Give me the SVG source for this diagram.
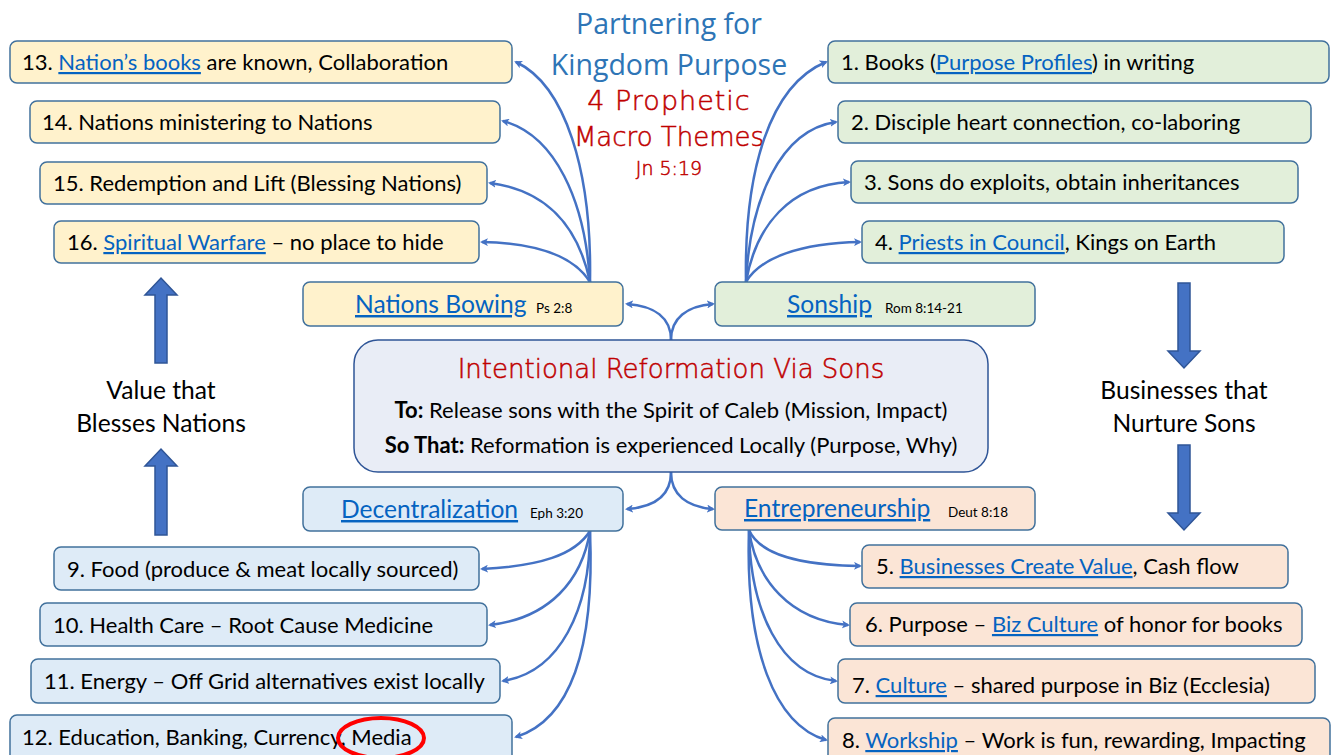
<svg xmlns="http://www.w3.org/2000/svg" width="1337" height="755" viewBox="0 0 1337 755">
<defs>
<marker id="ah" markerWidth="8" markerHeight="8" refX="6" refY="4" orient="auto" markerUnits="userSpaceOnUse"><path d="M0,0 L8,4 L0,8 L2,4 Z" fill="#4472C4"/></marker>
<style>
.bx{stroke:#41719C;stroke-width:1.5}
.y{fill:#FFF2CC}.g{fill:#E2EFDA}.b{fill:#DEEBF7}.p{fill:#FBE5D6}
.t{font-family:Lato,"Liberation Sans",sans-serif;font-size:22px;fill:#000}
.lk{fill:#0563C1;text-decoration:underline}
.h{font-family:Lato,"Liberation Sans",sans-serif;font-size:24.6px;fill:#0563C1;text-decoration:underline}
.s{font-family:Lato,"Liberation Sans",sans-serif;font-size:13.5px;fill:#000}
.c{fill:none;stroke:#4472C4;stroke-width:2.5;marker-end:url(#ah)}
.big{fill:#4472C4;stroke:#2F5597;stroke-width:1.5}
.tl{font-family:"Open Sans","Noto Sans",sans-serif;font-size:28.5px;fill:#2E75B6;text-anchor:middle}
.hw{font-family:"DejaVu Sans",sans-serif;font-weight:200;fill:#C00000;stroke:#C00000;stroke-width:0.5;text-anchor:middle}
.mid{font-family:Lato,"Liberation Sans",sans-serif;font-size:24.6px;fill:#000;text-anchor:middle}
.ct{font-family:Lato,"Liberation Sans",sans-serif;font-size:22px;fill:#000;text-anchor:middle}
</style>
</defs>
<rect width="1337" height="755" fill="#fff"/>
<g id="title">
<text class="tl" x="669" y="34">Partnering for</text>
<text class="tl" x="669" y="75">Kingdom Purpose</text>
<text class="hw" x="669" y="110" font-size="27" letter-spacing="1">4 Prophetic</text>
<text class="hw" x="669" y="146" font-size="26">Macro Themes</text>
<text class="hw" x="669" y="175" font-size="19">Jn 5:19</text>
</g>
<g id="connectors">
<path class="c" d="M590,282 C592,170 565,85 516,62"/>
<path class="c" d="M590,282 C585,200 555,135 503,121"/>
<path class="c" d="M590,282 C578,225 545,190 490,183"/>
<path class="c" d="M590,282 C575,258 540,243 482,242"/>
<path class="c" d="M746,282 C744,170 770,85 826,62"/>
<path class="c" d="M746,282 C750,200 780,130 836,122"/>
<path class="c" d="M746,282 C756,225 790,185 849,182"/>
<path class="c" d="M746,282 C760,258 800,243 860,242"/>
<path class="c" d="M590,531 C575,555 540,566 482,569"/>
<path class="c" d="M590,531 C582,580 550,618 490,625"/>
<path class="c" d="M590,531 C590,610 560,672 503,681"/>
<path class="c" d="M590,531 C595,650 570,720 516,737"/>
<path class="c" d="M749,530 C760,555 800,565 860,566"/>
<path class="c" d="M749,530 C756,580 790,620 848,625"/>
<path class="c" d="M749,530 C750,610 780,675 836,681"/>
<path class="c" d="M749,530 C745,650 775,725 826,740"/>
<path class="c" d="M671,340 C671,318 655,306 627,304"/>
<path class="c" d="M671,340 C671,318 687,306 713,304"/>
<path class="c" d="M671,472 C671,495 655,507 627,509"/>
<path class="c" d="M671,472 C671,495 687,507 713,509"/>
</g>
<g id="n13"><rect class="bx y" x="10" y="41" width="502" height="42" rx="7"/><text class="t" x="22" y="70">13. <tspan class="lk">Nation’s books</tspan> are known, Collaboration</text></g>
<g id="n14"><rect class="bx y" x="30" y="101" width="470" height="42" rx="7"/><text class="t" x="42" y="130">14. Nations ministering to Nations</text></g>
<g id="n15"><rect class="bx y" x="40" y="162" width="447" height="42" rx="7"/><text class="t" x="53" y="191">15. Redemption and Lift (Blessing Nations)</text></g>
<g id="n16"><rect class="bx y" x="54" y="221" width="425" height="42" rx="7"/><text class="t" x="67" y="250">16. <tspan class="lk">Spiritual Warfare</tspan> – no place to hide</text></g>
<g id="nations"><rect class="bx y" x="303" y="282" width="320" height="44" rx="7"/><text class="h" x="355" y="313">Nations Bowing</text><text class="s" x="536" y="313">Ps 2:8</text></g>
<g id="n1"><rect class="bx g" x="828" y="41" width="501" height="42" rx="7"/><text class="t" x="841" y="70">1. Books (<tspan class="lk">Purpose Profiles</tspan>) in writing</text></g>
<g id="n2"><rect class="bx g" x="838" y="101" width="473" height="42" rx="7"/><text class="t" x="851" y="130">2. Disciple heart connection, co-laboring</text></g>
<g id="n3"><rect class="bx g" x="851" y="161" width="447" height="42" rx="7"/><text class="t" x="864" y="190">3. Sons do exploits, obtain inheritances</text></g>
<g id="n4"><rect class="bx g" x="862" y="221" width="422" height="42" rx="7"/><text class="t" x="875" y="250">4. <tspan class="lk">Priests in Council</tspan>, Kings on Earth</text></g>
<g id="sonship"><rect class="bx g" x="715" y="282" width="320" height="44" rx="7"/><text class="h" x="787" y="313">Sonship</text><text class="s" x="885" y="313">Rom 8:14-21</text></g>
<g id="center"><rect x="354" y="340" width="634" height="132" rx="24" fill="#E9EDF6" stroke="#2F5597" stroke-width="1.5"/>
<text class="hw" x="671" y="378" font-size="26">Intentional Reformation Via Sons</text>
<text class="ct" x="671" y="418"><tspan font-weight="bold">To:</tspan> Release sons with the Spirit of Caleb (Mission, Impact)</text>
<text class="ct" x="671" y="453"><tspan font-weight="bold">So That:</tspan> Reformation is experienced Locally (Purpose, Why)</text></g>
<g id="decentral"><rect class="bx b" x="303" y="487" width="320" height="44" rx="7"/><text class="h" x="341" y="518">Decentralization</text><text class="s" x="530" y="518">Eph 3:20</text></g>
<g id="entre"><rect class="bx p" x="715" y="487" width="320" height="43" rx="7"/><text class="h" x="744" y="517">Entrepreneurship</text><text class="s" x="948" y="517">Deut 8:18</text></g>
<g id="n9"><rect class="bx b" x="54" y="547" width="425" height="43" rx="7"/><text class="t" x="67" y="577">9. Food (produce &amp; meat locally sourced)</text></g>
<g id="n10"><rect class="bx b" x="40" y="603" width="447" height="43" rx="7"/><text class="t" x="53" y="633">10. Health Care – Root Cause Medicine</text></g>
<g id="n11"><rect class="bx b" x="31" y="659" width="469" height="44" rx="7"/><text class="t" x="44" y="689">11. Energy – Off Grid alternatives exist locally</text></g>
<g id="n12"><rect class="bx b" x="10" y="715" width="502" height="48" rx="7"/><text class="t" x="22" y="745">12. Education, Banking, Currency, Media</text>
<ellipse cx="381" cy="738" rx="43" ry="20" fill="none" stroke="#FF0000" stroke-width="4"/></g>
<g id="n5"><rect class="bx p" x="862" y="545" width="426" height="43" rx="7"/><text class="t" x="876" y="574">5. <tspan class="lk">Businesses Create Value</tspan>, Cash flow</text></g>
<g id="n6"><rect class="bx p" x="850" y="603" width="452" height="43" rx="7"/><text class="t" x="865" y="632">6. Purpose – <tspan class="lk">Biz Culture</tspan> of honor for books</text></g>
<g id="n7"><rect class="bx p" x="838" y="659" width="477" height="44" rx="7"/><text class="t" x="852" y="693">7. <tspan class="lk">Culture</tspan> – shared purpose in Biz (Ecclesia)</text></g>
<g id="n8"><rect class="bx p" x="828" y="718" width="502" height="45" rx="7"/><text class="t" x="842" y="748">8. <tspan class="lk">Workship</tspan> – Work is fun, rewarding, Impacting</text></g>
<g id="leftside">
<path class="big" d="M155,363 L155,295 L145,295 L161,278 L177,295 L167,295 L167,363 Z"/>
<path class="big" d="M155,535 L155,466 L145,466 L161,449 L177,466 L167,466 L167,535 Z"/>
<text class="mid" x="161" y="399">Value that</text>
<text class="mid" x="161" y="432">Blesses Nations</text>
</g>
<g id="rightside">
<path class="big" d="M1178,283 L1178,351 L1168,351 L1184,368 L1200,351 L1190,351 L1190,283 Z"/>
<path class="big" d="M1178,445 L1178,513 L1168,513 L1184,530 L1200,513 L1190,513 L1190,445 Z"/>
<text class="mid" x="1184" y="399">Businesses that</text>
<text class="mid" x="1184" y="432">Nurture Sons</text>
</g>
</svg>
